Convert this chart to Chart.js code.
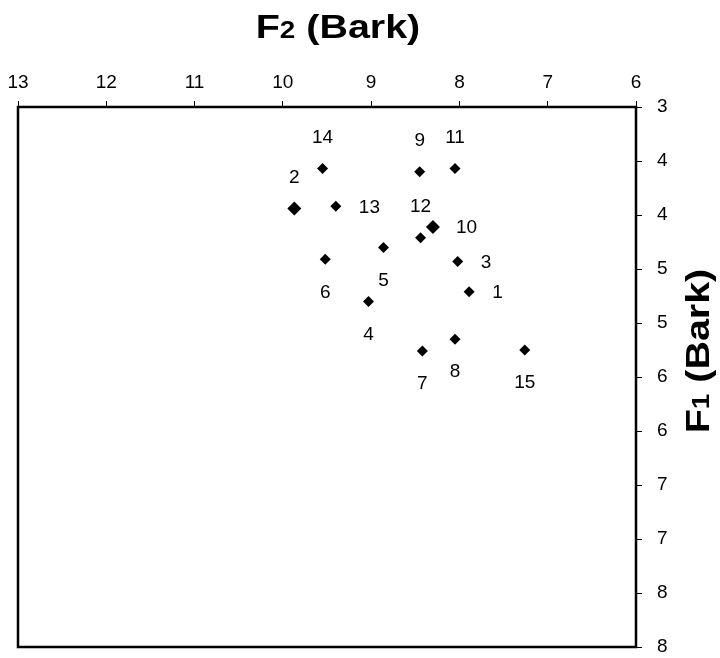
<!DOCTYPE html>
<html>
<head>
<meta charset="utf-8">
<script src="https://cdn.jsdelivr.net/npm/chart.js@4/dist/chart.umd.min.js"></script>
<style>
  html, body { margin: 0; padding: 0; background: #fff; }
</style>
</head>
<body>
<canvas id="grafico-bark" width="720" height="658"></canvas>
<script>
// Datos
const etiquetas = ['1', '2', '3', '4', '5', '6', '7', '8', '9', '10', '11', '12', '13', '14', '15'];
const valoresF2 = [7.89, 9.87, 8.02, 9.03, 8.86, 9.52, 8.42, 8.05, 8.45, 8.30, 8.05, 8.44, 9.40, 9.55, 7.26];
const valoresF1 = [4.71, 3.94, 4.43, 4.80, 4.30, 4.41, 5.26, 5.15, 3.60, 4.11, 3.57, 4.21, 3.92, 3.57, 5.25];
const ticksF2Valores = [13, 12, 11, 10, 9, 8, 7, 6];
const ticksF2 = ['13', '12', '11', '10', '9', '8', '7', '6'];
const ticksF1Valores = [3, 3.5, 4, 4.5, 5, 5.5, 6, 6.5, 7, 7.5, 8];
const ticksF1 = ['3', '4', '4', '5', '5', '6', '6', '7', '7', '8', '8'];

// Dónde va cada número respecto a su punto
const posicionEtiqueta = ['right', 'above', 'right', 'below', 'below', 'below', 'below', 'below',
  'above', 'right', 'above', 'above', 'right', 'above', 'below'];
// Los puntos 2 y 10 se ven algo más grandes
const radios = [5.5, 7, 5.5, 5.5, 5.5, 5.5, 5.5, 5.5, 5.5, 7, 5.5, 5.5, 5.5, 5.5, 5.5];

const fuente = '"Liberation Sans", Arial, sans-serif';

// Busca el texto de un tick por su valor
function textoTick(valores, textos, v) {
  const i = valores.findIndex(t => Math.abs(t - v) < 1e-6);
  return i >= 0 ? textos[i] : '';
}

/**
 * Escribe un título con subíndice: "F" + sub + " (Bark)"
 * El original tiene la letra algo más ancha, por eso el estirado
 */
function dibujarTitulo(ctx, x, y, sub, rotado) {
  ctx.save();
  ctx.translate(x, y);
  if (rotado) ctx.rotate(-Math.PI / 2);
  ctx.scale(1.16, 1);
  ctx.fillStyle = '#000';
  ctx.textBaseline = 'alphabetic';
  const grande = 'bold 34px ' + fuente;
  const chica = 'bold 24px ' + fuente;
  ctx.font = grande;
  const wF = ctx.measureText('F').width;
  const wResto = ctx.measureText(' (Bark)').width;
  ctx.font = chica;
  const wSub = ctx.measureText(sub).width;
  const total = wF + wSub + wResto;
  let cx = -total / 2;
  const base = 12;
  ctx.textAlign = 'left';
  ctx.font = grande;
  ctx.fillText('F', cx, base);
  cx += wF;
  ctx.font = chica;
  ctx.fillText(sub, cx, base);
  cx += wSub;
  ctx.font = grande;
  ctx.fillText(' (Bark)', cx, base);
  ctx.restore();
}

// Marco, números de los puntos y títulos
const pluginExtras = {
  id: 'extras',
  afterDatasetsDraw(chart) {
    const ctx = chart.ctx;
    const area = chart.chartArea;
    ctx.save();
    ctx.strokeStyle = '#000';
    ctx.lineWidth = 2.5;
    ctx.strokeRect(area.left, area.top, area.right - area.left, area.bottom - area.top);

    ctx.fillStyle = '#000';
    ctx.font = '19px ' + fuente;
    ctx.textBaseline = 'middle';
    const meta = chart.getDatasetMeta(0);
    meta.data.forEach((punto, i) => {
      const pos = posicionEtiqueta[i];
      if (pos === 'above') {
        ctx.textAlign = 'center';
        ctx.fillText(etiquetas[i], punto.x, punto.y - 31);
      } else if (pos === 'below') {
        ctx.textAlign = 'center';
        ctx.fillText(etiquetas[i], punto.x, punto.y + 33);
      } else {
        ctx.textAlign = 'left';
        ctx.fillText(etiquetas[i], punto.x + 23, punto.y + 1);
      }
    });
    ctx.restore();

    dibujarTitulo(ctx, 338, 26, '2', false);
    dibujarTitulo(ctx, 697, 351, '1', true);
  }
};

const canvas = document.getElementById('grafico-bark');
new Chart(canvas, {
  type: 'scatter',
  data: {
    datasets: [{
      data: valoresF2.map((v, i) => ({ x: v, y: valoresF1[i] })),
      pointStyle: 'rectRot',
      pointRadius: radios,
      backgroundColor: '#000',
      borderColor: '#000',
      borderWidth: 0
    }]
  },
  options: {
    responsive: false,
    animation: false,
    layout: { padding: { left: 18, right: 0, top: 0, bottom: 11 } },
    plugins: {
      legend: { display: false },
      tooltip: { enabled: false }
    },
    scales: {
      x: {
        type: 'linear',
        position: 'top',
        reverse: true,
        min: 6,
        max: 13,
        afterFit: scale => {
          scale.height = 107;
          scale.paddingLeft = 0;
          scale.paddingRight = 0;
        },
        ticks: {
          stepSize: 1,
          autoSkip: false,
          maxRotation: 0,
          padding: 7,
          color: '#000',
          font: { family: fuente, size: 19 },
          callback: v => textoTick(ticksF2Valores, ticksF2, v)
        },
        grid: { drawOnChartArea: false, tickLength: 6, color: '#000', lineWidth: 1 },
        border: { display: false }
      },
      y: {
        type: 'linear',
        position: 'right',
        reverse: true,
        min: 3,
        max: 8,
        afterFit: scale => {
          scale.width = 84;
          scale.paddingTop = 0;
          scale.paddingBottom = 0;
        },
        ticks: {
          stepSize: 0.5,
          autoSkip: false,
          padding: 15,
          color: '#000',
          font: { family: fuente, size: 19 },
          callback: v => textoTick(ticksF1Valores, ticksF1, v)
        },
        grid: { drawOnChartArea: false, tickLength: 6, color: '#000', lineWidth: 1 },
        border: { display: false }
      }
    }
  },
  plugins: [pluginExtras]
});
</script>
</body>
</html>
